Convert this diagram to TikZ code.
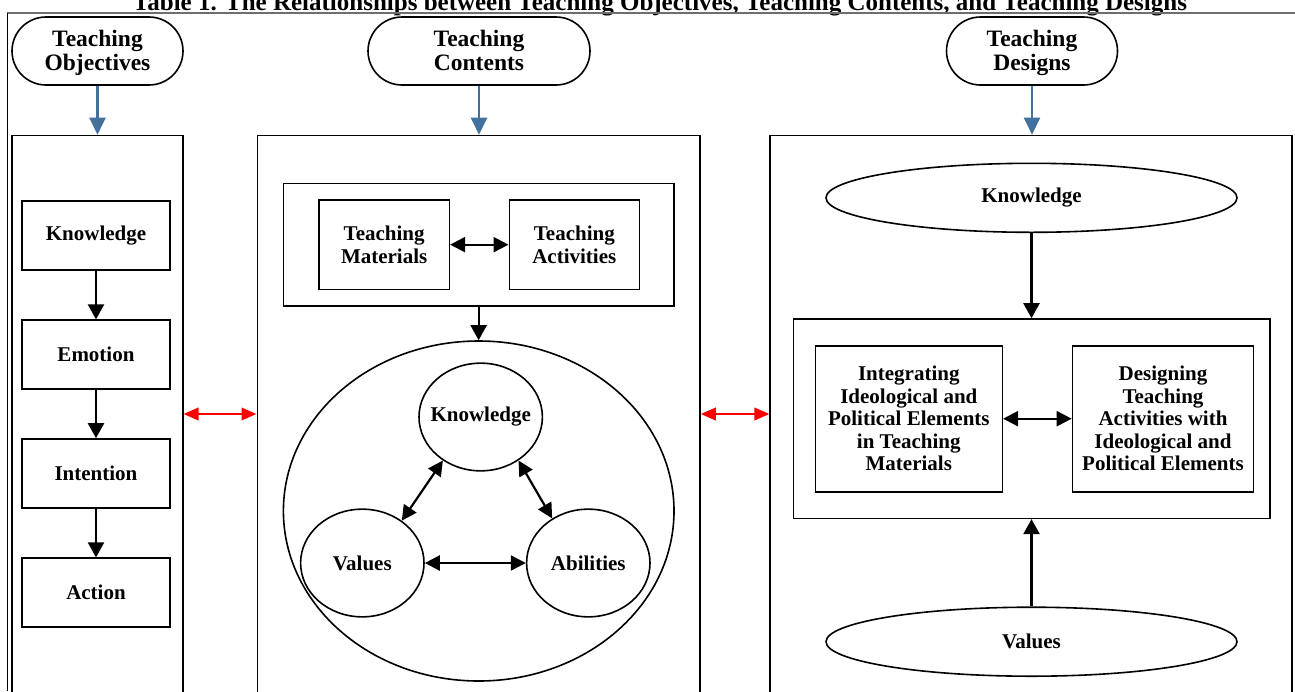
\documentclass[tikz,border=0pt]{standalone}
\usepackage{fontspec}
\setmainfont{Liberation Serif}
\usetikzlibrary{arrows.meta,shapes.geometric}
\definecolor{arrowblue}{RGB}{65,113,156}
\definecolor{rulegray}{RGB}{110,110,110}
\begin{document}
\begin{tikzpicture}[x=1pt,y=-1pt,
  every node/.style={font=\fontsize{21pt}{22.5pt}\selectfont\bfseries, align=center, inner sep=0pt},
  box/.style={draw, line width=1.6pt, rectangle},
  stad/.style={draw, line width=1.6pt, rectangle, rounded corners=34pt, minimum height=68pt, text depth=1.5pt,
    font=\fontsize{23.5pt}{24.5pt}\selectfont\bfseries},
  ell/.style={draw, line width=1.6pt, ellipse, inner sep=0pt},
  arr/.style={line width=2.2pt, -{Triangle[length=15pt,width=16pt]}},
  darr/.style={line width=2.2pt, {Triangle[length=15pt,width=15pt]}-{Triangle[length=15pt,width=15pt]}},
  redarr/.style={color=red, line width=2.2pt, {Triangle[length=15pt,width=12.5pt]}-{Triangle[length=15pt,width=12.5pt]}},
  bluearr/.style={color=arrowblue, line width=2.2pt, -{Triangle[length=17pt,width=16pt]}}
]
\useasboundingbox (0,0) rectangle (1295,691);
\clip (0,0) rectangle (1295,691);

% title (cut at the top, as in the reference)
\node[anchor=base, font=\fontsize{25pt}{27pt}\selectfont\bfseries] (title) at (660,10)
  {Table 1. The Relationships between Teaching Objectives, Teaching Contents, and Teaching Designs};
\draw[rulegray, line width=1.1pt] (7.3,13) -- (1295,13);
\draw[line width=0.9pt] (7.3,13) -- (7.3,691);

% headers
\node[stad, minimum width=171pt] (tobj) at (97.5,51) {Teaching\\Objectives};
\node[stad, minimum width=222pt] (tcon) at (479,51) {Teaching\\Contents};
\node[stad, minimum width=171pt] (tdes) at (1032,51) {Teaching\\Designs};

% column frames
\node[box, minimum width=171pt, minimum height=620pt, anchor=north] (cobj) at (97.2,134.7) {};
\node[box, minimum width=442.7pt, minimum height=620pt, anchor=north] (ccon) at (478.65,134.7) {};
\node[box, minimum width=521.5pt, minimum height=620pt, anchor=north] (cdes) at (1031,134.7) {};

\draw[bluearr] (tobj.south) -- (tobj.south |- cobj.north);
\draw[bluearr] (tcon.south) -- (tcon.south |- ccon.north);
\draw[bluearr] (tdes.south) -- (tdes.south |- cdes.north);

\coordinate (ry) at (0,414);
\draw[redarr] (cobj.east |- ry) -- (ccon.west |- ry);
\draw[redarr] (ccon.east |- ry) -- (cdes.west |- ry);

% left column
\node[box, minimum width=148pt, minimum height=69pt] (k1) at (96,235.5) {Knowledge};
\node[box, minimum width=148pt, minimum height=69pt] (e1) at (96,354.7) {Emotion};
\node[box, minimum width=148pt, minimum height=69pt] (i1) at (96,473.5) {Intention};
\node[box, minimum width=148pt, minimum height=69pt] (a1) at (96,592.7) {Action};
\draw[arr] (k1) -- (e1);
\draw[arr] (e1) -- (i1);
\draw[arr] (i1) -- (a1);

% middle column
\node[box, minimum width=390.7pt, minimum height=122.4pt] (mat) at (478.65,244.5) {};
\node[box, minimum width=130.3pt, minimum height=89.3pt] (tm) at (384.15,244.65) {Teaching\\Materials};
\node[box, minimum width=130pt, minimum height=89.3pt] (ta) at (574.3,244.65) {Teaching\\Activities};
\draw[darr] (tm) -- (ta);
\node[ell, minimum width=390.6pt, minimum height=340pt] (big) at (478.7,511) {};
\draw[arr] (mat.south) -- (mat.south |- big.north);
\node[ell, minimum width=123.4pt, minimum height=107.7pt] (ck) at (480.7,417) {\makebox[0pt]{Knowledge}};
\node[ell, minimum width=123.4pt, minimum height=107.7pt] (cv) at (362.3,563) {\makebox[0pt]{Values}};
\node[ell, minimum width=123.4pt, minimum height=107.7pt] (ca) at (588.3,563) {\makebox[0pt]{Abilities}};
\draw[darr] (ck.229) -- (cv.47);
\draw[darr] (ck.311) -- (ca.129);
\draw[darr] (cv) -- (ca);

% right column
\node[ell, minimum width=411pt, minimum height=69pt] (rk) at (1031.5,197.8) {\makebox[0pt]{Knowledge}};
\node[box, minimum width=476.6pt, minimum height=199.3pt] (rin) at (1031.7,418.65) {};
\node[box, minimum width=187pt, minimum height=146pt] (integ) at (908.8,418.7)
  {Integrating\\Ideological and\\Political Elements\\in Teaching\\Materials};
\node[box, minimum width=181pt, minimum height=146pt] (desg) at (1163,418.7)
  {Designing\\Teaching\\Activities with\\Ideological and\\Political Elements};
\draw[darr] (integ) -- (desg);
\node[ell, minimum width=411pt, minimum height=69pt] (rv) at (1031.5,641.7) {\makebox[0pt]{Values}};
\draw[arr] (rk.south) -- (rk.south |- rin.north);
\draw[arr] (rv.north) -- (rv.north |- rin.south);
\end{tikzpicture}
\end{document}
